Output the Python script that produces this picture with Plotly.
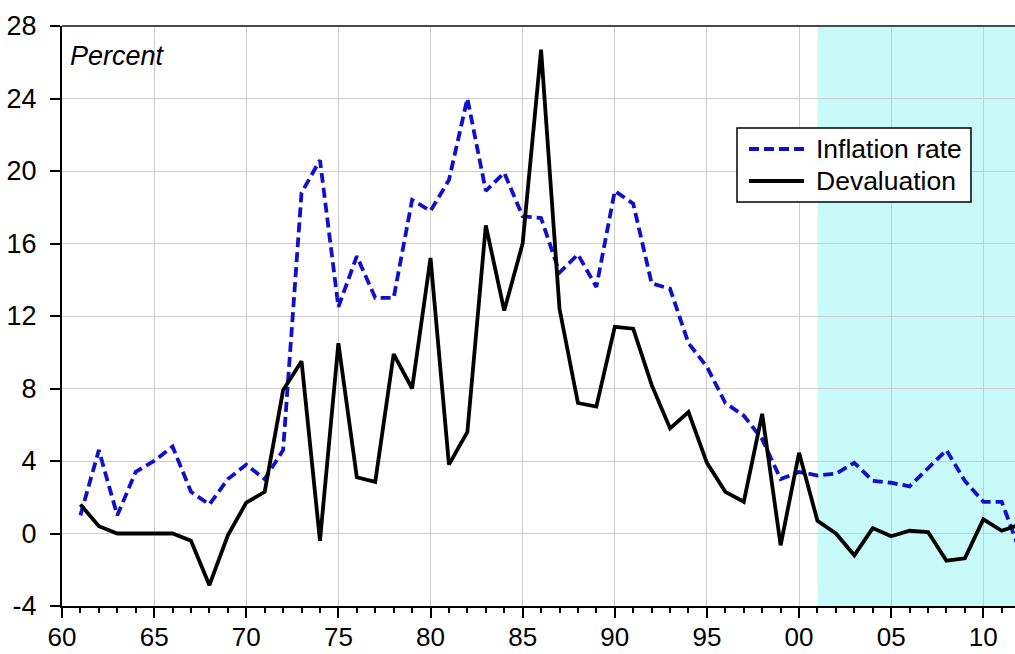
import plotly.graph_objects as go

years = list(range(1961, 2013))

inflation = [1.0, 4.6, 1.0, 3.4, 4.0, 4.8, 2.3, 1.6, 3.0, 3.8,
             3.0, 4.6, 18.8, 20.6, 12.5, 15.3, 13.0, 13.0, 18.4, 17.8,
             19.5, 24.0, 18.9, 19.9, 17.5, 17.4, 14.4, 15.4, 13.6, 18.9,
             18.2, 13.8, 13.5, 10.5, 9.2, 7.2, 6.5, 5.2, 3.0, 3.4,
             3.2, 3.3, 3.9, 2.9, 2.8, 2.6, 3.6, 4.6, 2.9, 1.75,
             1.75, -1.0]

devaluation = [1.6, 0.4, 0.0, 0.0, 0.0, 0.0, -0.4, -2.85, -0.1, 1.7,
               2.3, 7.9, 9.5, -0.4, 10.5, 3.1, 2.85, 9.9, 8.0, 15.2,
               3.8, 5.6, 17.0, 12.3, 16.0, 26.7, 12.4, 7.2, 7.0, 11.4,
               11.3, 8.2, 5.8, 6.7, 3.9, 2.3, 1.75, 6.6, -0.65, 4.45,
               0.7, 0.0, -1.2, 0.3, -0.15, 0.15, 0.08, -1.5, -1.37, 0.78,
               0.15, 0.5]

x_tickvals = [1960, 1965, 1970, 1975, 1980, 1985, 1990, 1995, 2000, 2005, 2010]
x_ticktext = ["60", "65", "70", "75", "80", "85", "90", "95", "00", "05", "10"]
y_tickvals = [-4, 0, 4, 8, 12, 16, 20, 24, 28]
y_ticktext = ["-4", "0", "4", "8", "12", "16", "20", "24", "28"]

series_names = ["Inflation rate", "Devaluation"]
series_colors = ["#1010cc", "black"]
series_dash = ["10px,5px", "solid"]

shade_start = 2001
shade_end = 2013

FONT = "Liberation Sans, Arial, sans-serif"
LW = 3.8

fig = go.Figure()
for name, vals, col, dash in zip(series_names, [inflation, devaluation],
                                 series_colors, series_dash):
    fig.add_trace(go.Scatter(x=years, y=vals, mode="lines", name=name,
                             showlegend=False,
                             line=dict(color=col, width=LW, dash=dash)))

# shaded period
fig.add_shape(type="rect", xref="x", yref="paper",
              x0=shade_start, x1=shade_end, y0=0, y1=1,
              fillcolor="#c8fafa", line=dict(width=0), layer="below")
# top frame line
fig.add_shape(type="line", xref="paper", yref="paper",
              x0=0, x1=1, y0=1, y1=1,
              line=dict(color="#4a4a4a", width=2))

# legend box (drawn manually to match the reference's compact layout)
leg_x0, leg_x1, leg_y0, leg_y1 = 0.7083, 0.9538, 0.6966, 0.8241
fig.add_shape(type="rect", xref="paper", yref="paper",
              x0=leg_x0, x1=leg_x1, y0=leg_y0, y1=leg_y1,
              fillcolor="white", line=dict(color="black", width=1.5),
              layer="above")
row_y = [0.7879, 0.7328]
for name, col, dash, ry in zip(series_names, series_colors, series_dash, row_y):
    fig.add_shape(type="line", xref="paper", yref="paper",
                  x0=0.7209, x1=0.7786, y0=ry, y1=ry,
                  line=dict(color=col, width=LW, dash=dash), layer="above")
    fig.add_annotation(text=name, xref="paper", yref="paper",
                       x=0.7891, y=ry, xanchor="left", yanchor="middle",
                       showarrow=False,
                       font=dict(family=FONT, size=26.5, color="black"))

fig.add_annotation(text="<i>Percent</i>", xref="paper", yref="paper",
                   x=0.006, y=0.948, xanchor="left", yanchor="middle",
                   showarrow=False, font=dict(family=FONT, size=27, color="black"))

fig.update_layout(
    width=1015, height=654,
    margin=dict(l=62, r=0, t=26, b=48, autoexpand=False),
    paper_bgcolor="white", plot_bgcolor="white",
    font=dict(family=FONT, size=26, color="black"),
    showlegend=False,
)

fig.update_xaxes(
    range=[1960, 2011.72], automargin=False,
    tickmode="array", tickvals=x_tickvals, ticktext=x_ticktext,
    ticks="outside", ticklen=10, tickwidth=1.5, tickcolor="black",
    showline=True, linecolor="black", linewidth=2,
    showgrid=True, gridcolor="#cccccc", gridwidth=1,
    zeroline=False, ticklabelstandoff=-3,
    tickfont=dict(family=FONT, size=26, color="black"),
    minor=dict(tickmode="linear", tick0=1960, dtick=1, ticks="outside",
               ticklen=5, tickwidth=1.5, tickcolor="black", showgrid=False),
)
fig.update_yaxes(
    range=[-4, 28], automargin=False,
    tickmode="array", tickvals=y_tickvals, ticktext=y_ticktext,
    ticks="outside", ticklen=10, tickwidth=1.5, tickcolor="black",
    showline=True, linecolor="black", linewidth=2,
    showgrid=True, gridcolor="#cccccc", gridwidth=1,
    zeroline=False, ticklabelstandoff=8,
    tickfont=dict(family=FONT, size=27, color="black"),
)

fig.write_html("out.html",
               config={"displayModeBar": False},
               post_script="document.body.style.margin='0';document.body.style.overflow='hidden';")
